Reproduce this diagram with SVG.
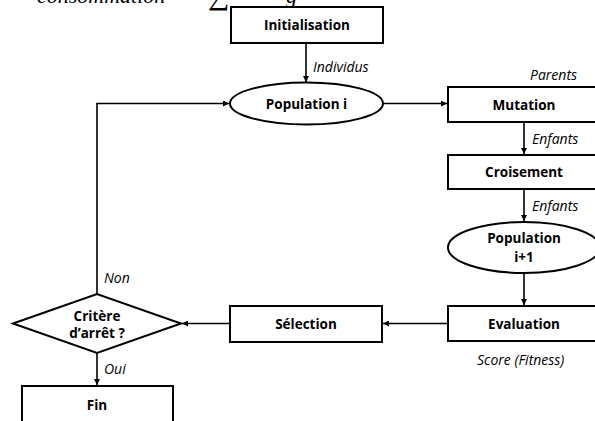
<svg xmlns="http://www.w3.org/2000/svg" width="595" height="421" viewBox="0 0 595 421">
<defs>
<marker id="ah" viewBox="0 0 8 8" refX="8" refY="4" markerWidth="6" markerHeight="6" markerUnits="userSpaceOnUse" orient="auto">
<path d="M0,0 L8,4 L0,8 Z" fill="#000"/>
</marker>
</defs>
<style>
.box{fill:#fff;stroke:#000;stroke-width:2}
.t{font-family:"Open Sans","Liberation Sans",sans-serif;font-weight:700;font-size:13.5px;fill:#000;text-anchor:middle}
.lab{font-family:"Open Sans","Liberation Sans",sans-serif;font-style:italic;font-size:14px;fill:#000}
.ed{fill:none;stroke:#000;stroke-width:1.6;marker-end:url(#ah)}
.top{font-family:"Liberation Serif",serif;font-style:italic;font-size:22px;fill:#000}
</style>
<rect width="595" height="421" fill="#fff"/>
<g id="header">
<text class="top" x="37" y="3">consommation</text>
<text class="top" x="208" y="4" style="font-style:normal;font-size:30px">∑</text>
<text class="top" x="286" y="3">g</text>
</g>
<g id="connectors">
<line class="ed" x1="306" y1="43" x2="306" y2="82"/>
<line class="ed" x1="383" y1="103.5" x2="447" y2="103.5"/>
<line class="ed" x1="524" y1="122" x2="524" y2="154"/>
<line class="ed" x1="524" y1="189" x2="524" y2="221"/>
<line class="ed" x1="524" y1="273" x2="524" y2="305"/>
<line class="ed" x1="448" y1="323.5" x2="383" y2="323.5"/>
<line class="ed" x1="230" y1="323.5" x2="182" y2="323.5"/>
<polyline class="ed" points="97,294 97,103.5 229,103.5"/>
<line class="ed" x1="97" y1="353" x2="97" y2="385"/>
<text class="lab" x="313" y="72">Individus</text>
<text class="lab" x="530" y="80">Parents</text>
<text class="lab" x="532" y="144">Enfants</text>
<text class="lab" x="532" y="211">Enfants</text>
<text class="lab" x="477" y="365">Score (Fitness)</text>
<text class="lab" x="104" y="283">Non</text>
<text class="lab" x="104" y="374">Oui</text>
</g>
<g id="initialisation">
<rect class="box" x="231" y="7" width="152" height="36"/>
<text class="t" x="307" y="29.5">Initialisation</text>
</g>
<g id="population_i">
<ellipse class="box" cx="306.5" cy="103.5" rx="76.5" ry="21"/>
<text class="t" x="306.5" y="108.5">Population i</text>
</g>
<g id="mutation">
<rect class="box" x="448" y="87" width="152" height="35"/>
<text class="t" x="524" y="109.5">Mutation</text>
</g>
<g id="croisement">
<rect class="box" x="448" y="155" width="152" height="34"/>
<text class="t" x="524" y="177">Croisement</text>
</g>
<g id="population_i1">
<ellipse class="box" cx="524" cy="247.5" rx="76" ry="25.5"/>
<text class="t" x="524" y="243">Population</text>
<text class="t" x="524" y="261.5">i+1</text>
</g>
<g id="evaluation">
<rect class="box" x="448" y="306" width="152" height="35"/>
<text class="t" x="524" y="328.5">Evaluation</text>
</g>
<g id="selection">
<rect class="box" x="230" y="306" width="152" height="36"/>
<text class="t" x="306" y="328.5">Sélection</text>
</g>
<g id="critere">
<polygon class="box" points="13,323.5 97,294 181,323.5 97,353"/>
<text class="t" x="97" y="320.5">Critère</text>
<text class="t" x="97" y="338">d’arrêt ?</text>
</g>
<g id="fin">
<rect class="box" x="22" y="386" width="151" height="45"/>
<text class="t" x="97" y="409.5">Fin</text>
</g>
</svg>
